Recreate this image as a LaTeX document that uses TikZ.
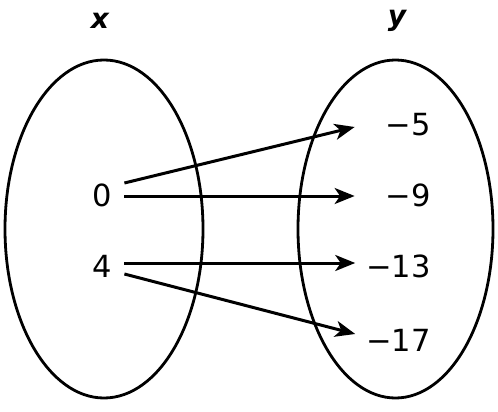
\documentclass[tikz,border=0pt]{standalone}
\usepackage{fontspec}
\setmainfont{DejaVu Sans}
\usetikzlibrary{arrows.meta,calc}
\begin{document}
\begin{tikzpicture}[x=1pt,y=-1pt,
  setshape/.style={draw,line width=2.8pt},
  num/.style={inner sep=0pt,font=\fontsize{30.5}{32}\selectfont},
  rnum/.style={num,anchor=east},
  head/.style={inner sep=0pt,font=\fontsize{28}{30}\selectfont\bfseries\itshape},
  arr/.style={line width=3pt,-{Stealth[length=20pt,width=16pt,inset=5.5pt]}}]
\useasboundingbox (0,0) rectangle (498,412);
\draw[setshape] (104,229) ellipse [x radius=99, y radius=169];
\draw[setshape] (395.5,229) ellipse [x radius=97.5, y radius=169];
\node[head] (hx) at (100,21) {x};
\node[head] (hy) at (397,21) {y};
\node[num] (x0) at (102.5,195.5) {0};
\node[num] (x4) at (102.5,266) {4};
\node[rnum] (y5) at (431,125) {−5};
\node[rnum] (y9) at (431,195.5) {−9};
\node[rnum] (y13) at (431,266) {−13};
\node[rnum] (y17) at (431,340) {−17};
\draw[arr] ($(x0.east)+(12,-12.5)$) -- ($(y5.west)+(-31,2)$);
\draw[arr] ($(x0.east)+(12,0.5)$) -- ($(y9.west)+(-31,0.5)$);
\draw[arr] ($(x4.east)+(12,-3)$) -- ($(y13.west)+(-11,-3)$);
\draw[arr] ($(x4.east)+(12,8)$) -- ($(y17.west)+(-11,-6)$);
\end{tikzpicture}
\end{document}
